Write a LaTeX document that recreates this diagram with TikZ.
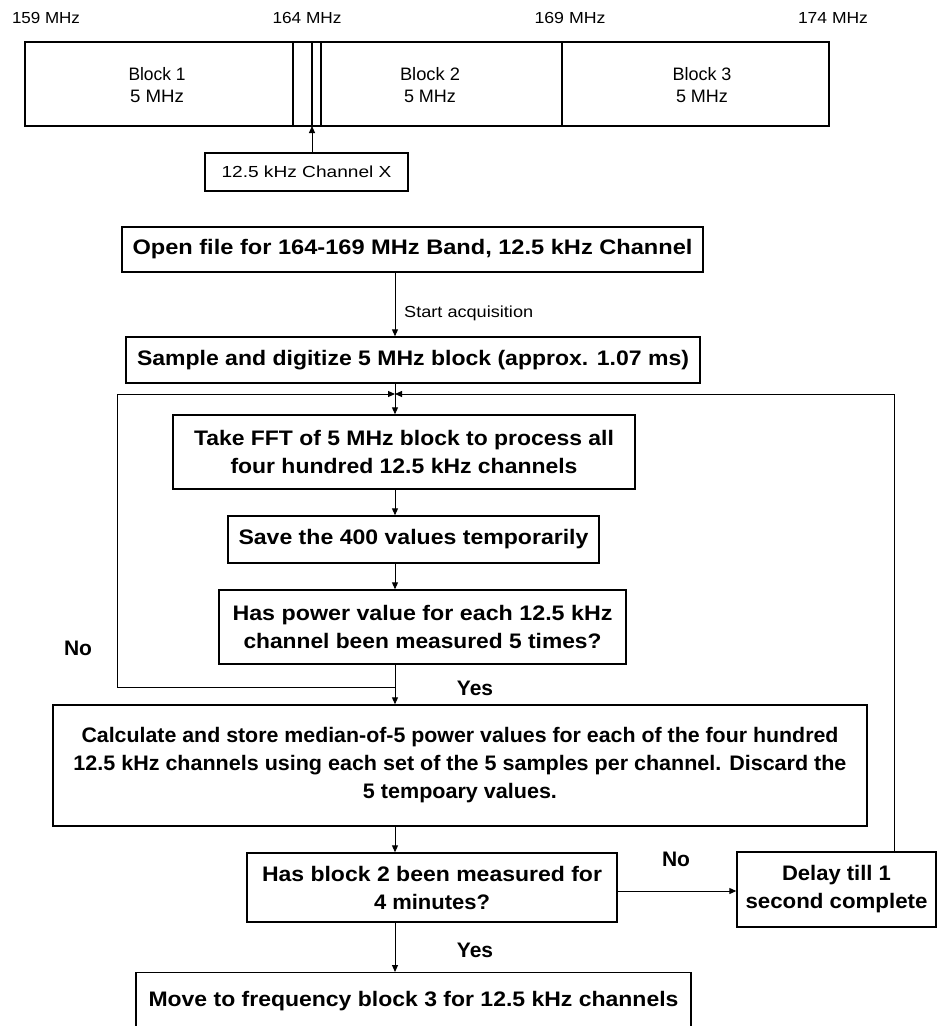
\documentclass[tikz,border=0pt]{standalone}
\usepackage{fontspec}
\setmainfont{Liberation Sans}
\usetikzlibrary{arrows.meta}

% set #2 in the current font and stretch it horizontally to #1 pt
\newlength\fwlen
\newcommand{\fw}[2]{\settowidth{\fwlen}{#2}\pgfmathsetmacro\fwr{#1/\fwlen}\scalebox{\fwr}[1]{#2}}

\begin{document}
\begin{tikzpicture}[x=1pt,y=-1pt,
  box/.style={draw, line width=1.4pt, inner sep=0pt, align=center,
              font=\fontsize{21}{28}\selectfont\bfseries},
  flow/.style={line width=1pt, -{Triangle[length=7pt,width=6pt]}},
  band/.style={line width=1.3pt},
  lbl/.style={inner sep=0pt, font=\fontsize{16}{18}\selectfont},
  blk/.style={inner sep=0pt, align=center, font=\fontsize{18}{22}\selectfont},
  tag/.style={inner sep=0pt, font=\fontsize{21}{24}\selectfont\bfseries}]

\useasboundingbox (0,0) rectangle (937,1026);

% ---- frequency band with the three 5 MHz blocks ----
\draw[band] (25,42) rectangle (829,126);
\foreach \x in {293,321,562} \draw[band] (\x,42) -- (\x,126);
\draw[line width=2pt] (312,42) -- (312,126);
\coordinate (chline) at (312,126);

\node[lbl] (f159) at (46,18)  {\fw{68}{159 MHz}};
\node[lbl] (f164) at (307,18) {\fw{69}{164 MHz}};
\node[lbl] (f169) at (570,18) {\fw{71}{169 MHz}};
\node[lbl] (f174) at (833,18) {\fw{70}{174 MHz}};

\node[blk] (b1) at (157,85) {\fw{57}{Block 1}\\\fw{54}{5 MHz}};
\node[blk] (b2) at (430,85) {\fw{60}{Block 2}\\\fw{52}{5 MHz}};
\node[blk] (b3) at (702,85) {\fw{59}{Block 3}\\\fw{52}{5 MHz}};

\node[draw, band, inner sep=0pt, minimum width=203pt, minimum height=38pt,
      font=\fontsize{16}{18}\selectfont] (chx) at (306.5,172) {\fw{170}{12.5 kHz Channel X}};
\draw[flow] (chx.north -| chline) -- (chline);

% ---- flow chart ----
\coordinate (spine) at (395,0);
\coordinate (join) at (395,394);
\coordinate (noL) at (117,687);
\coordinate (noB) at (395,687);
\coordinate (rightTop) at (894,394);
\coordinate (noR) at (0,891);

\node[box, minimum width=581pt, minimum height=45pt] (open) at (412.5,249.5)
  {\fw{560}{Open file for 164-169 MHz Band, 12.5 kHz Channel}};
\node[box, minimum width=574pt, minimum height=46pt] (sample) at (413,360)
  {\fw{552}{Sample and digitize 5 MHz block (approx. 1.07 ms)}};
\node[box, minimum width=462pt, minimum height=74pt] (fft) at (404,452)
  {\fw{420}{Take FFT of 5 MHz block to process all}\\\fw{347}{four hundred 12.5 kHz channels}};
\node[box, minimum width=371pt, minimum height=47pt] (save) at (413.5,539.5)
  {\fw{350}{Save the 400 values temporarily}};
\node[box, minimum width=407pt, minimum height=74pt] (dec1) at (422.5,627)
  {\fw{380}{Has power value for each 12.5 kHz}\\\fw{358}{channel been measured 5 times?}};
\node[box, minimum width=814pt, minimum height=121pt] (calc) at (460,765.5)
  {\fw{757}{Calculate and store median-of-5 power values for each of the four hundred}\\
   \fw{773}{12.5 kHz channels using each set of the 5 samples per channel. Discard the}\\
   \fw{194}{5 tempoary values.}};
\node[box, minimum width=370pt, minimum height=69pt] (dec2) at (432,887.5)
  {\fw{340}{Has block 2 been measured for}\\\fw{116}{4 minutes?}};
\node[box, minimum width=199pt, minimum height=75pt] (delay) at (836.5,889.5)
  {\fw{109}{Delay till 1}\\\fw{182}{second complete}};
\node[box, minimum width=555pt, minimum height=56pt, anchor=north] (move) at (413.5,972)
  {\fw{530}{Move to frequency block 3 for 12.5 kHz channels}};

\draw[flow] (open.south -| spine) -- (sample.north -| spine);
\node[lbl, anchor=west] (start) at (404,313) {\fw{129}{Start acquisition}};
\draw[flow] (sample.south -| spine) -- (fft.north -| spine);
\draw[flow] (fft.south -| spine) -- (save.north -| spine);
\draw[flow] (save.south -| spine) -- (dec1.north -| spine);
\draw[flow] (dec1.south -| spine) -- (calc.north -| spine);
\draw[flow] (noB) -- (noL) |- (join);
\draw[flow] (calc.south -| spine) -- (dec2.north -| spine);
\draw[flow] (dec2.south -| spine) -- (move.north -| spine);
\draw[flow] (dec2.east |- noR) -- (delay.west |- noR);
\draw[flow] (delay.north -| rightTop) -- (rightTop) -- (join);

\node[tag] (no1)  at (78,648)  {No};
\node[tag] (yes1) at (475,688) {Yes};
\node[tag] (no2)  at (676,859) {No};
\node[tag] (yes2) at (475,950) {Yes};
\end{tikzpicture}
\end{document}
